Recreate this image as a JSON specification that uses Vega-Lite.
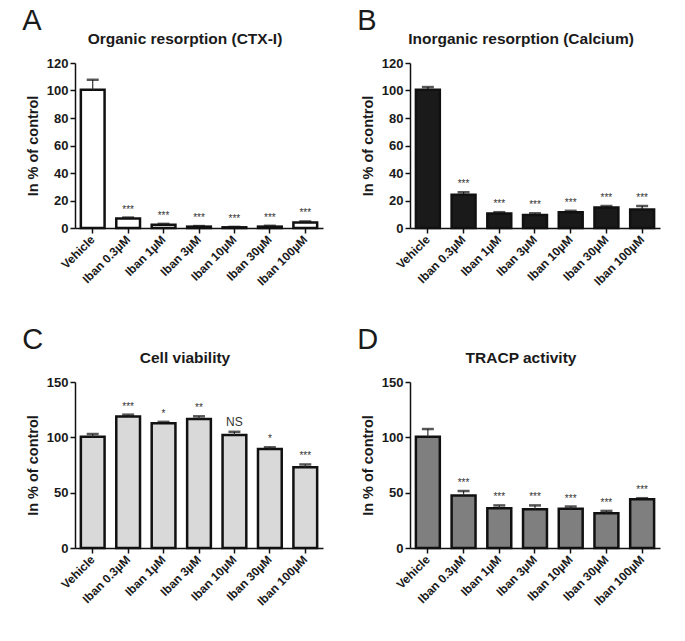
{
  "$schema": "https://vega.github.io/schema/vega-lite/v6.json",
  "background": "white",
  "padding": {"left": 22, "top": 6, "right": 5, "bottom": 5},
  "config": {
    "font": "Liberation Sans",
    "view": {"stroke": null},
    "axis": {
      "grid": false,
      "domainColor": "#111",
      "domainWidth": 1.5,
      "tickColor": "#111",
      "tickWidth": 1.5,
      "tickSize": 5,
      "labelColor": "#1a1a1a",
      "labelFontWeight": "bold",
      "labelFontSize": 13,
      "titleFontSize": 14.5,
      "titleFontWeight": "bold",
      "titleColor": "#1a1a1a"
    },
    "axisY": {"labelOverlap": false, "labelSeparation": 0},
    "title": {"fontSize": 15.5, "fontWeight": "bold", "color": "#1a1a1a", "offset": 10, "dx": -14}
  },
  "datasets": {
    "A": [
      {"group": "Vehicle", "value": 100.5, "err": 107.8, "sig": ""},
      {"group": "Iban 0.3µM", "value": 7, "err": 7.6, "sig": "***"},
      {"group": "Iban 1µM", "value": 2.3, "err": 3, "sig": "***"},
      {"group": "Iban 3µM", "value": 1.0, "err": 1.4, "sig": "***"},
      {"group": "Iban 10µM", "value": 0.5, "err": 0.8, "sig": "***"},
      {"group": "Iban 30µM", "value": 1.0, "err": 1.6, "sig": "***"},
      {"group": "Iban 100µM", "value": 4.0, "err": 4.8, "sig": "***"}
    ],
    "B": [
      {"group": "Vehicle", "value": 100.5, "err": 102.5, "sig": ""},
      {"group": "Iban 0.3µM", "value": 24.2, "err": 26, "sig": "***"},
      {"group": "Iban 1µM", "value": 10.5, "err": 11.5, "sig": "***"},
      {"group": "Iban 3µM", "value": 9.5, "err": 10.7, "sig": "***"},
      {"group": "Iban 10µM", "value": 11.5, "err": 12.5, "sig": "***"},
      {"group": "Iban 30µM", "value": 15, "err": 16, "sig": "***"},
      {"group": "Iban 100µM", "value": 13.5, "err": 16, "sig": "***"}
    ],
    "C": [
      {"group": "Vehicle", "value": 100.5, "err": 103, "sig": ""},
      {"group": "Iban 0.3µM", "value": 118.8, "err": 120.5, "sig": "***"},
      {"group": "Iban 1µM", "value": 112.8, "err": 114, "sig": "*"},
      {"group": "Iban 3µM", "value": 116.5, "err": 119, "sig": "**"},
      {"group": "Iban 10µM", "value": 102, "err": 105, "sig": "NS"},
      {"group": "Iban 30µM", "value": 89.5, "err": 91, "sig": "*"},
      {"group": "Iban 100µM", "value": 73, "err": 75.5, "sig": "***"}
    ],
    "D": [
      {"group": "Vehicle", "value": 100.5, "err": 107.5, "sig": ""},
      {"group": "Iban 0.3µM", "value": 47.5, "err": 51.5, "sig": "***"},
      {"group": "Iban 1µM", "value": 36, "err": 38.5, "sig": "***"},
      {"group": "Iban 3µM", "value": 35, "err": 38.5, "sig": "***"},
      {"group": "Iban 10µM", "value": 35.5, "err": 37.5, "sig": "***"},
      {"group": "Iban 30µM", "value": 31.5, "err": 33.5, "sig": "***"},
      {"group": "Iban 100µM", "value": 44, "err": 45, "sig": "***"}
    ]
  },
  "spacing": 37,
  "vconcat": [
    {
      "spacing": 34,
      "hconcat": [
        {
          "title": {"text": "A", "anchor": "start", "fontSize": 29, "fontWeight": "normal", "frame": "bounds", "dx": -3, "offset": -4},
          "vconcat": [
            {
              "title": "Organic resorption (CTX-I)",
              "width": 248, "height": 165,
              "data": {"name": "A"},
              "encoding": {
                "x": {"field": "group", "type": "nominal", "sort": null, "title": null,
                      "scale": {"paddingInner": 0.33, "paddingOuter": 0.165},
                      "axis": {"labelAngle": -45, "labelAlign": "right", "labelBaseline": "middle", "labelPadding": 4, "labelFontSize": 12}},
                "y": {"field": "value", "type": "quantitative",
                   "scale": {"domain": [0, 120], "nice": false},
                   "axis": {"values": [0, 20, 40, 60, 80, 100, 120], "tickCount": 7, "labelOverlap": false, "title": "In % of control", "titlePadding": 6}}
              },
              "layer": [
                {"mark": {"type": "bar", "fill": "white", "stroke": "#111", "strokeWidth": 2.5}},
                {"mark": {"type": "rule", "color": "#333", "strokeWidth": 1.2},
                 "encoding": {"y2": {"field": "err"}}},
                {"mark": {"type": "tick", "color": "#111", "thickness": 2.5, "size": 12},
                 "encoding": {"y": {"field": "err", "type": "quantitative"}}},
                {"mark": {"type": "text", "color": "#333", "baseline": "bottom", "dy": -3},
                 "encoding": {"y": {"field": "err", "type": "quantitative"}, "text": {"field": "sig"},
                   "size": {"condition": {"test": "datum.sig === 'NS'", "value": 12}, "value": 10}}}
              ]
            }
          ]
        },
        {
          "title": {"text": "B", "anchor": "start", "fontSize": 29, "fontWeight": "normal", "frame": "bounds", "dx": -3, "offset": -4},
          "vconcat": [
            {
              "title": "Inorganic resorption (Calcium)",
              "width": 250, "height": 165,
              "data": {"name": "B"},
              "encoding": {
                "x": {"field": "group", "type": "nominal", "sort": null, "title": null,
                      "scale": {"paddingInner": 0.33, "paddingOuter": 0.165},
                      "axis": {"labelAngle": -45, "labelAlign": "right", "labelBaseline": "middle", "labelPadding": 4, "labelFontSize": 12}},
                "y": {"field": "value", "type": "quantitative",
                   "scale": {"domain": [0, 120], "nice": false},
                   "axis": {"values": [0, 20, 40, 60, 80, 100, 120], "tickCount": 7, "labelOverlap": false, "title": "In % of control", "titlePadding": 6}}
              },
              "layer": [
                {"mark": {"type": "bar", "fill": "#1a1a1a", "stroke": "#111", "strokeWidth": 2.5}},
                {"mark": {"type": "rule", "color": "#111", "strokeWidth": 1.2},
                 "encoding": {"y2": {"field": "err"}}},
                {"mark": {"type": "tick", "color": "#111", "thickness": 2.5, "size": 12},
                 "encoding": {"y": {"field": "err", "type": "quantitative"}}},
                {"mark": {"type": "text", "color": "#333", "baseline": "bottom", "dy": -3},
                 "encoding": {"y": {"field": "err", "type": "quantitative"}, "text": {"field": "sig"},
                   "size": {"condition": {"test": "datum.sig === 'NS'", "value": 12}, "value": 10}}}
              ]
            }
          ]
        }
      ]
    },
    {
      "spacing": 34,
      "hconcat": [
        {
          "title": {"text": "C", "anchor": "start", "fontSize": 29, "fontWeight": "normal", "frame": "bounds", "dx": -3, "offset": -4},
          "vconcat": [
            {
              "title": "Cell viability",
              "width": 248, "height": 166,
              "data": {"name": "C"},
              "encoding": {
                "x": {"field": "group", "type": "nominal", "sort": null, "title": null,
                      "scale": {"paddingInner": 0.33, "paddingOuter": 0.165},
                      "axis": {"labelAngle": -45, "labelAlign": "right", "labelBaseline": "middle", "labelPadding": 4, "labelFontSize": 12}},
                "y": {"field": "value", "type": "quantitative",
                   "scale": {"domain": [0, 150], "nice": false},
                   "axis": {"values": [0, 50, 100, 150], "labelOverlap": false, "title": "In % of control", "titlePadding": 6}}
              },
              "layer": [
                {"mark": {"type": "bar", "fill": "#d9d9d9", "stroke": "#111", "strokeWidth": 2.5}},
                {"mark": {"type": "rule", "color": "#333", "strokeWidth": 1.2},
                 "encoding": {"y2": {"field": "err"}}},
                {"mark": {"type": "tick", "color": "#111", "thickness": 2.5, "size": 12},
                 "encoding": {"y": {"field": "err", "type": "quantitative"}}},
                {"mark": {"type": "text", "color": "#333", "baseline": "bottom", "dy": -3},
                 "encoding": {"y": {"field": "err", "type": "quantitative"}, "text": {"field": "sig"},
                   "size": {"condition": {"test": "datum.sig === 'NS'", "value": 12}, "value": 10}}}
              ]
            }
          ]
        },
        {
          "title": {"text": "D", "anchor": "start", "fontSize": 29, "fontWeight": "normal", "frame": "bounds", "dx": -3, "offset": -4},
          "vconcat": [
            {
              "title": "TRACP activity",
              "width": 250, "height": 166,
              "data": {"name": "D"},
              "encoding": {
                "x": {"field": "group", "type": "nominal", "sort": null, "title": null,
                      "scale": {"paddingInner": 0.33, "paddingOuter": 0.165},
                      "axis": {"labelAngle": -45, "labelAlign": "right", "labelBaseline": "middle", "labelPadding": 4, "labelFontSize": 12}},
                "y": {"field": "value", "type": "quantitative",
                   "scale": {"domain": [0, 150], "nice": false},
                   "axis": {"values": [0, 50, 100, 150], "labelOverlap": false, "title": "In % of control", "titlePadding": 6}}
              },
              "layer": [
                {"mark": {"type": "bar", "fill": "#7f7f7f", "stroke": "#111", "strokeWidth": 2.5}},
                {"mark": {"type": "rule", "color": "#333", "strokeWidth": 1.2},
                 "encoding": {"y2": {"field": "err"}}},
                {"mark": {"type": "tick", "color": "#111", "thickness": 2.5, "size": 12},
                 "encoding": {"y": {"field": "err", "type": "quantitative"}}},
                {"mark": {"type": "text", "color": "#333", "baseline": "bottom", "dy": -3},
                 "encoding": {"y": {"field": "err", "type": "quantitative"}, "text": {"field": "sig"},
                   "size": {"condition": {"test": "datum.sig === 'NS'", "value": 12}, "value": 10}}}
              ]
            }
          ]
        }
      ]
    }
  ]
}
